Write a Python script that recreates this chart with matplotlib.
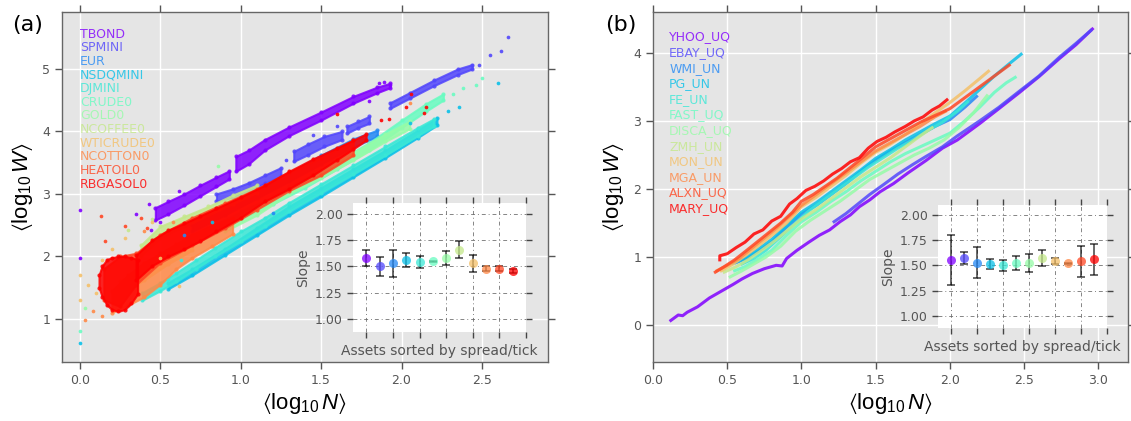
import matplotlib
matplotlib.use('Agg')
import matplotlib.pyplot as plt
import numpy as np

plt.rcParams['font.family'] = ['DejaVu Sans']
plt.rcParams['mathtext.fontset'] = 'custom'
plt.rcParams['mathtext.rm'] = 'Liberation Sans'
plt.rcParams['mathtext.it'] = 'Liberation Sans:italic'
plt.rcParams['mathtext.fallback'] = 'stixsans'

# ---------------- data: panel (a) ----------------
assets_a = ['TBOND', 'SPMINI', 'EUR', 'NSDQMINI', 'DJMINI', 'CRUDE0', 'GOLD0',
            'NCOFFEE0', 'WTICRUDE0', 'NCOTTON0', 'HEATOIL0', 'RBGASOL0']

# each cloud: list of segments (x, lower edge, upper edge) of <log10 W> vs <log10 N>
tbond_bands = [
    ([0.47, 0.55, 0.65, 0.75, 0.85, 0.93], [2.58, 2.68, 2.82, 2.97, 3.12, 3.24], [2.78, 2.88, 3.00, 3.14, 3.27, 3.37]),
    ([0.97, 1.05, 1.15, 1.30, 1.50, 1.70, 1.85, 1.93], [3.36, 3.48, 3.70, 3.93, 4.18, 4.45, 4.62, 4.70], [3.60, 3.70, 3.87, 4.07, 4.31, 4.56, 4.71, 4.77]),
]
spmini_bands = [
    ([0.85, 0.95, 1.05, 1.15, 1.25], [2.88, 2.95, 3.05, 3.17, 3.28], [3.00, 3.08, 3.18, 3.30, 3.42]),
    ([1.33, 1.42, 1.52, 1.63], [3.52, 3.63, 3.76, 3.87], [3.68, 3.80, 3.92, 4.00]),
    ([1.66, 1.73, 1.80], [3.97, 4.06, 4.13], [4.08, 4.16, 4.24]),
    ([1.93, 2.05, 2.20, 2.35, 2.44], [4.37, 4.53, 4.73, 4.91, 5.00], [4.46, 4.62, 4.82, 5.00, 5.07]),
]
eur_bands = [
    ([0.70, 0.90, 1.10, 1.30, 1.50, 1.70, 1.85], [2.40, 2.66, 2.93, 3.20, 3.48, 3.75, 3.92], [2.50, 2.78, 3.06, 3.34, 3.62, 3.88, 4.02]),
]
nsdqmini_bands = [
    ([0.55, 0.70, 0.90, 1.10, 1.30, 1.50, 1.70, 1.90, 2.10, 2.22], [1.48, 1.70, 2.02, 2.34, 2.66, 2.96, 3.27, 3.58, 3.90, 4.10], [1.58, 1.80, 2.12, 2.46, 2.80, 3.10, 3.40, 3.70, 4.02, 4.22]),
]
djmini_bands = [
    ([0.39, 0.50, 0.60, 0.72, 0.84, 1.00, 1.15, 1.30, 1.50, 1.70, 1.90, 2.10, 2.20], [1.30, 1.45, 1.60, 1.80, 2.00, 2.24, 2.48, 2.72, 3.02, 3.32, 3.62, 3.93, 4.08], [1.42, 1.58, 1.74, 1.94, 2.14, 2.40, 2.62, 2.86, 3.16, 3.46, 3.76, 4.06, 4.20]),
]
crude0_bands = [
    ([0.80, 1.00, 1.20, 1.40, 1.60, 1.80, 2.00, 2.15, 2.26], [2.34, 2.60, 2.84, 3.10, 3.40, 3.70, 4.06, 4.32, 4.50], [2.46, 2.72, 2.96, 3.22, 3.52, 3.82, 4.18, 4.44, 4.60]),
]
gold0_bands = [
    ([0.90, 1.10, 1.30, 1.50, 1.70, 1.90, 2.05], [2.40, 2.66, 3.00, 3.26, 3.54, 3.84, 4.04], [2.52, 2.80, 3.12, 3.38, 3.66, 3.96, 4.16]),
]
ncoffee0_bands = [
    ([0.38, 0.50, 0.65, 0.80, 0.95, 1.10], [2.00, 2.30, 2.48, 2.66, 2.84, 3.02], [2.18, 2.48, 2.64, 2.80, 2.98, 3.14]),
]
wticrude0_bands = [
    ([0.25, 0.40, 0.55, 0.70], [1.40, 1.62, 1.88, 2.10], [1.60, 1.85, 2.10, 2.30]),
]
ncotton0_bands = [
    ([0.20, 0.30, 0.40, 0.50, 0.60, 0.70, 0.82, 0.95], [1.10, 1.22, 1.35, 1.55, 1.80, 1.98, 2.16, 2.36], [1.45, 1.70, 1.90, 2.05, 2.20, 2.35, 2.50, 2.62]),
]
heatoil0_bands = [
    ([0.15, 0.25, 0.35, 0.50, 0.70, 0.90, 1.10, 1.30, 1.50, 1.70], [1.30, 1.20, 1.55, 1.90, 2.18, 2.45, 2.75, 3.05, 3.30, 3.62], [1.80, 2.00, 2.05, 2.35, 2.62, 2.85, 3.08, 3.35, 3.58, 3.86]),
]
rbgasol0_bands = [
    ([0.12, 0.14, 0.17, 0.20, 0.24, 0.28, 0.32, 0.36], [1.50, 1.35, 1.22, 1.15, 1.12, 1.15, 1.25, 1.40], [1.70, 1.85, 1.95, 1.98, 2.00, 2.00, 1.98, 1.95]),
    ([0.35, 0.45, 0.55, 0.65, 0.75, 0.85, 1.00, 1.15, 1.30, 1.45, 1.60, 1.70, 1.78], [1.62, 1.85, 2.00, 2.12, 2.25, 2.40, 2.62, 2.88, 3.08, 3.30, 3.55, 3.72, 3.86], [2.02, 2.26, 2.42, 2.53, 2.65, 2.77, 2.95, 3.14, 3.36, 3.56, 3.74, 3.86, 3.96]),
]
bands_a = [tbond_bands, spmini_bands, eur_bands, nsdqmini_bands, djmini_bands, crude0_bands,
           gold0_bands, ncoffee0_bands, wticrude0_bands, ncotton0_bands, heatoil0_bands, rbgasol0_bands]

# isolated points
out_x_a = [
    [0.0, 0.0, 0.35, 0.43, 0.44, 0.50, 0.62, 1.80, 1.86, 1.89, 1.93],
    [2.55, 2.62, 2.66, 2.48, 1.45, 1.60, 1.28],
    [0.65, 1.20],
    [0.0, 0.82, 2.29, 2.36, 2.60, 2.05],
    [0.63, 0.55],
    [2.38, 2.46, 2.50, 2.32, 0.0],
    [0.03, 0.86],
    [0.45, 0.30],
    [0.0, 0.0, 0.10, 0.05, 0.14, 0.20, 0.45, 0.50, 0.62, 0.28],
    [0.03, 0.08, 0.14, 0.40, 0.58, 2.05],
    [0.13, 0.16, 0.38, 0.42, 0.28],
    [2.06, 2.15, 2.14, 2.03, 1.87, 1.92, 1.60],
]
out_y_a = [
    [2.75, 1.98, 2.68, 2.84, 2.43, 2.55, 3.05, 4.49, 4.78, 4.79, 4.74],
    [5.22, 5.28, 5.51, 5.06, 3.95, 4.08, 3.55],
    [2.35, 2.70],
    [0.62, 2.55, 4.33, 4.39, 4.77, 4.13],
    [1.95, 1.62],
    [4.69, 4.74, 4.85, 4.60, 0.81],
    [1.17, 3.45],
    [2.60, 2.42],
    [1.71, 1.30, 1.42, 1.55, 1.95, 2.12, 2.55, 1.98, 1.52, 2.30],
    [0.99, 1.12, 1.05, 2.40, 2.55, 4.45],
    [2.65, 2.25, 2.62, 2.45, 2.48],
    [4.60, 4.39, 4.29, 4.39, 4.18, 4.20, 4.28],
]

slope_a = [1.58, 1.50, 1.53, 1.56, 1.54, 1.55, 1.58, 1.66, 1.53, 1.48, 1.48, 1.46]
slope_err_a = [0.08, 0.09, 0.13, 0.063, 0.055, 0.005, 0.07, 0.08, 0.08, 0.02, 0.025, 0.02]

# ---------------- data: panel (b) ----------------
assets_b = ['YHOO_UQ', 'EBAY_UQ', 'WMI_UN', 'PG_UN', 'FE_UN', 'FAST_UQ', 'DISCA_UQ',
            'ZMH_UN', 'MON_UN', 'MGA_UN', 'ALXN_UQ', 'MARY_UQ']

yhoo_x = [0.12, 0.17, 0.20, 0.23, 0.30, 0.38, 0.46, 0.54, 0.60, 0.67, 0.75, 0.83, 0.87, 0.90, 0.97, 1.05, 1.12,
          1.19, 1.26, 1.33, 1.39, 1.46, 1.53, 1.62, 1.72, 1.84, 1.95, 2.05, 2.20, 2.33, 2.47, 2.60, 2.74, 2.85, 2.96]
yhoo_y = [0.07, 0.15, 0.14, 0.19, 0.27, 0.40, 0.50, 0.60, 0.68, 0.76, 0.83, 0.88, 0.87, 0.98, 1.10, 1.22, 1.32,
          1.40, 1.52, 1.62, 1.74, 1.84, 1.96, 2.08, 2.24, 2.42, 2.60, 2.72, 2.96, 3.18, 3.42, 3.65, 3.92, 4.12, 4.35]
ebay_x = [1.22, 1.30, 1.38, 1.46, 1.55, 1.65, 1.75, 1.84, 1.95, 2.05, 2.20, 2.33, 2.47, 2.60, 2.74, 2.85, 2.95]
ebay_y = [1.52, 1.64, 1.78, 1.92, 2.06, 2.22, 2.36, 2.48, 2.62, 2.78, 3.00, 3.20, 3.44, 3.66, 3.94, 4.14, 4.33]
wmi_x = [0.56, 0.64, 0.72, 0.80, 0.90, 1.00, 1.10, 1.20, 1.30, 1.40, 1.50, 1.60, 1.70, 1.80, 1.90, 2.00, 2.10, 2.18]
wmi_y = [0.92, 0.99, 1.10, 1.22, 1.44, 1.63, 1.76, 1.92, 2.08, 2.26, 2.42, 2.56, 2.68, 2.80, 2.92, 3.02, 3.20, 3.36]
pg_x = [0.54, 0.62, 0.70, 0.80, 0.90, 1.00, 1.10, 1.20, 1.30, 1.40, 1.50, 1.60, 1.70, 1.80, 1.90, 2.00, 2.10,
        2.20, 2.30, 2.40, 2.48]
pg_y = [0.91, 0.98, 1.10, 1.26, 1.46, 1.66, 1.80, 1.96, 2.12, 2.28, 2.45, 2.58, 2.72, 2.84, 2.96, 3.07, 3.26,
        3.46, 3.66, 3.84, 3.98]
fe_x = [0.60, 0.68, 0.76, 0.85, 0.95, 1.05, 1.15, 1.25, 1.35, 1.45, 1.55, 1.65, 1.75, 1.85, 1.95, 2.05, 2.12]
fe_y = [0.90, 0.98, 1.10, 1.28, 1.48, 1.68, 1.84, 2.00, 2.16, 2.32, 2.46, 2.60, 2.72, 2.86, 2.98, 3.14, 3.28]
fast_x = [0.55, 0.62, 0.70, 0.80, 0.90, 1.00, 1.10, 1.20, 1.30, 1.40, 1.50, 1.60, 1.70, 1.80, 1.90, 2.00, 2.10,
          2.20, 2.30, 2.38, 2.44]
fast_y = [0.80, 0.86, 0.96, 1.10, 1.32, 1.52, 1.66, 1.82, 1.96, 2.12, 2.26, 2.40, 2.52, 2.62, 2.72, 2.82, 3.00,
          3.20, 3.42, 3.56, 3.64]
disca_x = [0.52, 0.60, 0.68, 0.76, 0.86, 0.96, 1.06, 1.16, 1.26, 1.36, 1.46, 1.56, 1.66, 1.76, 1.86, 1.96, 2.06,
           2.16, 2.25]
disca_y = [0.71, 0.80, 0.90, 1.00, 1.16, 1.38, 1.54, 1.68, 1.82, 1.98, 2.14, 2.26, 2.38, 2.50, 2.60, 2.72, 2.90,
           3.12, 3.37]
zmh_x = [0.48, 0.56, 0.64, 0.72, 0.82, 0.92, 1.00, 1.10, 1.20, 1.30, 1.40, 1.50, 1.60, 1.70, 1.80, 1.88]
zmh_y = [0.78, 0.86, 0.96, 1.08, 1.24, 1.42, 1.56, 1.70, 1.86, 2.02, 2.18, 2.32, 2.46, 2.62, 2.78, 2.90]
mon_x = [0.46, 0.54, 0.62, 0.70, 0.80, 0.90, 1.00, 1.10, 1.20, 1.30, 1.40, 1.50, 1.60, 1.70, 1.80, 1.90, 2.00,
         2.10, 2.20, 2.26]
mon_y = [0.80, 0.90, 1.02, 1.15, 1.32, 1.50, 1.74, 1.88, 2.04, 2.20, 2.38, 2.54, 2.66, 2.80, 2.96, 3.12, 3.27,
         3.44, 3.62, 3.73]
mga_x = [0.43, 0.50, 0.58, 0.66, 0.75, 0.84, 0.92, 1.00, 1.10, 1.20, 1.30, 1.40, 1.50, 1.60, 1.70, 1.80, 1.90, 1.97]
mga_y = [0.80, 0.88, 0.98, 1.12, 1.28, 1.44, 1.60, 1.76, 1.92, 2.08, 2.24, 2.40, 2.56, 2.68, 2.80, 2.92, 3.06, 3.14]
alxn_x = [0.42, 0.48, 0.55, 0.62, 0.70, 0.78, 0.86, 0.94, 1.00, 1.08, 1.16, 1.24, 1.32, 1.40, 1.50, 1.60, 1.70,
          1.80, 1.90, 2.00, 2.10, 2.20, 2.30, 2.40]
alxn_y = [0.78, 0.86, 0.96, 1.08, 1.22, 1.36, 1.50, 1.66, 1.82, 1.92, 2.04, 2.16, 2.30, 2.44, 2.62, 2.74, 2.86,
          2.98, 3.08, 3.18, 3.34, 3.50, 3.66, 3.82]
mary_x = [0.45, 0.45, 0.50, 0.56, 0.62, 0.68, 0.74, 0.80, 0.86, 0.92, 0.97, 1.03, 1.09, 1.15, 1.21, 1.27, 1.33,
          1.39, 1.45, 1.51, 1.57, 1.63, 1.70, 1.76, 1.82, 1.88, 1.93, 1.98]
mary_y = [0.96, 1.02, 1.05, 1.14, 1.22, 1.34, 1.40, 1.53, 1.60, 1.78, 1.86, 1.98, 2.04, 2.12, 2.22, 2.30, 2.40,
          2.46, 2.60, 2.70, 2.76, 2.84, 2.92, 3.00, 3.06, 3.16, 3.22, 3.31]
lines_b = [(yhoo_x, yhoo_y), (ebay_x, ebay_y), (wmi_x, wmi_y), (pg_x, pg_y), (fe_x, fe_y), (fast_x, fast_y),
           (disca_x, disca_y), (zmh_x, zmh_y), (mon_x, mon_y), (mga_x, mga_y), (alxn_x, alxn_y), (mary_x, mary_y)]

slope_b = [1.554, 1.577, 1.528, 1.515, 1.50, 1.524, 1.521, 1.573, 1.547, 1.524, 1.54, 1.56]
slope_err_b = [0.25, 0.06, 0.155, 0.05, 0.05, 0.07, 0.09, 0.08, 0.03, 0.005, 0.15, 0.15]

# ---------------- drawing ----------------
GRAY = '#555555'
colors = plt.cm.rainbow(np.linspace(0, 1, 12))

fig = plt.figure(figsize=(11.31, 4.21), dpi=100)
ax_a = fig.add_axes([62 / 1131, 59 / 421, 486 / 1131, 350 / 421])
ax_b = fig.add_axes([653 / 1131, 59 / 421, 475 / 1131, 350 / 421])


def style_main(ax):
    ax.set_facecolor('#e5e5e5')
    ax.grid(True, color='white', lw=1.0)
    ax.set_axisbelow(True)
    for s in ax.spines.values():
        s.set_color('#666666')
        s.set_linewidth(1.0)
    ax.tick_params(direction='out', length=5, width=1, color=GRAY, labelcolor=GRAY,
                   labelsize=9, top=True, right=True, labeltop=False, labelright=False)
    ax.set_xlabel(r'$\langle\log_{10}N\rangle$', fontsize=16, labelpad=3)
    ax.set_ylabel(r'$\langle\log_{10}W\rangle$', fontsize=16, labelpad=5)


# panel (a)
for i, segs in enumerate(bands_a):
    for (sx, lo, hi) in segs:
        ax_a.fill_between(sx, lo, hi, color=colors[i], lw=1.5, edgecolor=colors[i], joinstyle='round',
                          alpha=0.85, zorder=2 + i * 0.01)
        ax_a.scatter(sx + sx, lo + hi, s=9, color=colors[i], lw=0, alpha=0.85, zorder=2 + i * 0.01)
    ax_a.scatter(out_x_a[i], out_y_a[i], s=7, color=colors[i], lw=0, alpha=0.9, zorder=3)
ax_a.set_xlim(-0.11, 2.91)
ax_a.set_ylim(0.31, 5.91)
ax_a.set_xticks([0.0, 0.5, 1.0, 1.5, 2.0, 2.5])
ax_a.set_yticks([1, 2, 3, 4, 5])
ax_a.xaxis.set_major_formatter(matplotlib.ticker.FormatStrFormatter('%.1f'))
style_main(ax_a)
for i, name in enumerate(assets_a):
    ax_a.text(0.037, 0.937 - i * 0.039, name, transform=ax_a.transAxes, color=colors[i], alpha=0.8,
              fontsize=9, va='center', ha='left')

# panel (b)
for i, (lx, ly) in enumerate(lines_b):
    ax_b.plot(lx, ly, color=colors[i], lw=2.2, alpha=0.85, zorder=2 + i * 0.01)
ax_b.set_xlim(0.0, 3.2)
ax_b.set_ylim(-0.54, 4.6)
ax_b.set_xticks([0.0, 0.5, 1.0, 1.5, 2.0, 2.5, 3.0])
ax_b.set_yticks([0, 1, 2, 3, 4])
ax_b.xaxis.set_major_formatter(matplotlib.ticker.FormatStrFormatter('%.1f'))
style_main(ax_b)
for i, name in enumerate(assets_b):
    ax_b.text(0.034, 0.929 - i * 0.0446, name, transform=ax_b.transAxes, color=colors[i], alpha=0.8,
              fontsize=9, va='center', ha='left')


def inset(rect, slopes, errs):
    ax = fig.add_axes(rect)
    ax.set_facecolor('white')
    for s in ax.spines.values():
        s.set_visible(False)
    idx = np.arange(len(slopes))
    for i in idx:
        ax.errorbar(i, slopes[i], yerr=errs[i], fmt='none', ecolor='black', elinewidth=1.1,
                    capsize=3, capthick=1.1, alpha=0.75, zorder=3)
        ax.plot(i, slopes[i], 'o', color=colors[i], ms=6.5, mew=0, alpha=0.75, zorder=4)
    ax.set_xlim(-1, 12)
    ax.set_ylim(0.88, 2.1)
    ax.set_xticks([0, 2, 4, 6, 8, 10, 12])
    ax.set_yticks([1.0, 1.25, 1.5, 1.75, 2.0])
    ax.yaxis.set_major_formatter(matplotlib.ticker.FormatStrFormatter('%.2f'))
    ax.grid(True, color='#666666', lw=0.7, linestyle=(0, (4, 3, 1, 3)), alpha=0.8)
    ax.set_axisbelow(True)
    ax.tick_params(direction='out', length=4, width=1, color='#444444', labelcolor=GRAY, labelsize=9,
                   top=True, right=True, labelbottom=False)
    ax.set_xlabel('Assets sorted by spread/tick', fontsize=10, color=GRAY, labelpad=5)
    ax.set_ylabel('Slope', fontsize=10, color=GRAY, labelpad=3)
    return ax


inset([353 / 1131, 89 / 421, 173 / 1131, 129 / 421], slope_a, slope_err_a)
inset([938 / 1131, 93 / 421, 169 / 1131, 123 / 421], slope_b, slope_err_b)

fig.text(0.0106, 0.94, '(a)', fontsize=16, va='center', ha='left')
fig.text(0.535, 0.94, '(b)', fontsize=16, va='center', ha='left')

fig.savefig('out.png', dpi=100)
